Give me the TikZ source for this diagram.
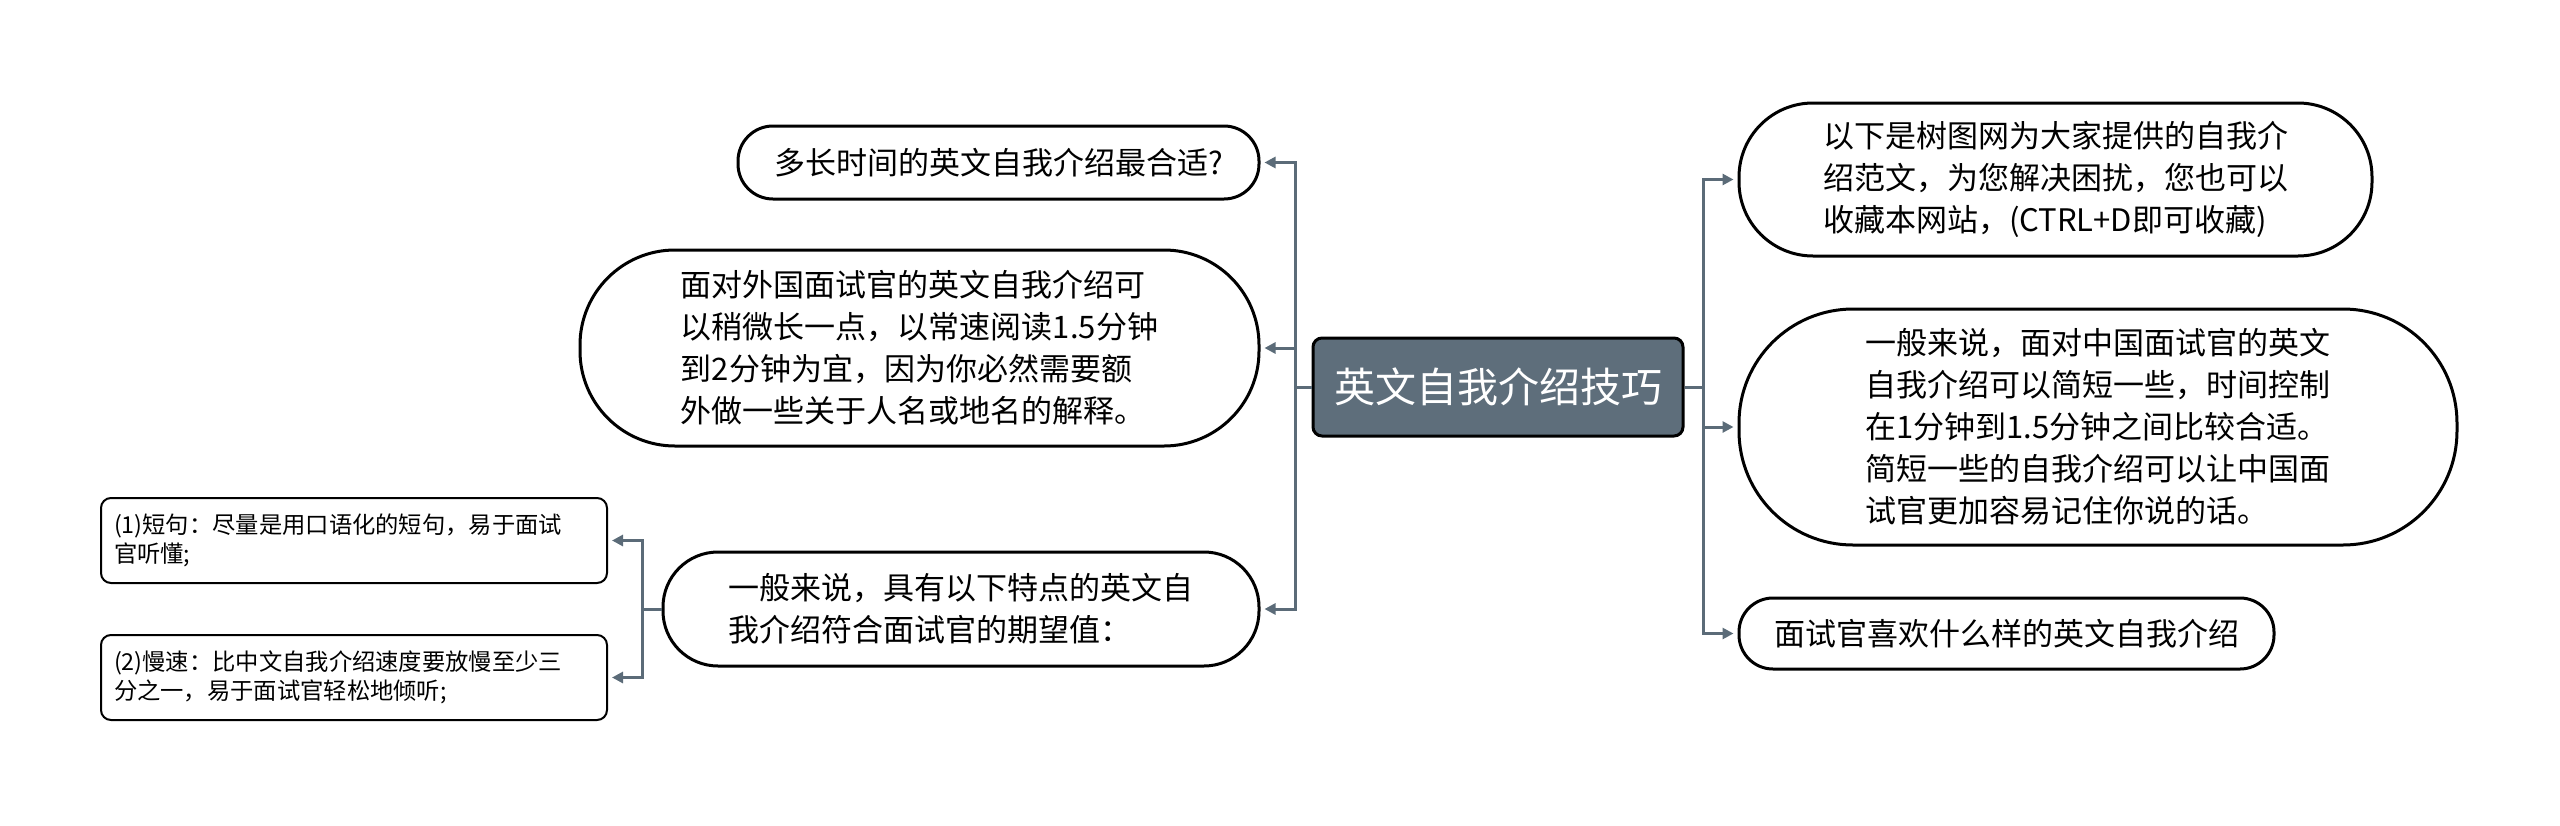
\documentclass[tikz,border=0pt]{standalone}
\usepackage{fontspec}
\newfontfamily\cjk{Noto Sans CJK SC}
\usetikzlibrary{arrows.meta}
\definecolor{linec}{RGB}{91,107,120}
\definecolor{mainfill}{RGB}{94,110,123}
\begin{document}
\begin{tikzpicture}[x=1pt,y=-1pt,
  leaf/.style={draw=black, line width=3pt, fill=white, align=left, font=\cjk\fontsize{31}{42}\selectfont, inner sep=0pt},
  smallbox/.style={draw=black, line width=2pt, fill=white, rounded corners=10pt, align=left, font=\cjk\fontsize{23.3}{29}\selectfont, inner ysep=0pt, inner xsep=13pt, text width=480pt, minimum height=85pt},
  conn/.style={draw=linec, line width=3pt, -{Triangle[length=11pt,width=11pt]}, shorten >=4pt}
]
\useasboundingbox (0,0) rectangle (2560,825);

\node[draw=black, line width=3pt, fill=mainfill, rounded corners=9pt, minimum width=370pt, minimum height=98pt, font=\cjk\fontsize{41}{41}\selectfont, text=white, inner sep=0pt] (c) at (1498,387) {英文自我介绍技巧};

% left leaves
\node[leaf, minimum width=521pt, minimum height=73pt, rounded corners=35pt] (L1) at (998.5,162.5) {多长时间的英文自我介绍最合适?};
\node[leaf, minimum width=679pt, minimum height=196pt, rounded corners=95pt] (L2) at (919.5,348) {面对外国面试官的英文自我介绍可\\以稍微长一点，以常速阅读1.5分钟\\到2分钟为宜，因为你必然需要额\\外做一些关于人名或地名的解释。};
\node[leaf, minimum width=596pt, minimum height=114pt, rounded corners=55pt] (L3) at (961,609) {一般来说，具有以下特点的英文自\\我介绍符合面试官的期望值：};

% sub leaves
\node[smallbox] (S1) at (354,540.5) {(1)短句：尽量是用口语化的短句，易于面试\\官听懂;};
\node[smallbox] (S2) at (354,677.5) {(2)慢速：比中文自我介绍速度要放慢至少三\\分之一，易于面试官轻松地倾听;};

% right leaves
\node[leaf, minimum width=633pt, minimum height=153pt, rounded corners=74pt] (R1) at (2055.5,179.5) {以下是树图网为大家提供的自我介\\绍范文，为您解决困扰，您也可以\\收藏本网站，(CTRL+D即可收藏)};
\node[leaf, minimum width=718pt, minimum height=236pt, rounded corners=114pt] (R2) at (2098,427) {一般来说，面对中国面试官的英文\\自我介绍可以简短一些，时间控制\\在1分钟到1.5分钟之间比较合适。\\简短一些的自我介绍可以让中国面\\试官更加容易记住你说的话。};
\node[leaf, minimum width=535pt, minimum height=71pt, rounded corners=34pt] (R3) at (2006.5,633.5) {面试官喜欢什么样的英文自我介绍};

% buses
\coordinate (lb) at (1295,387);
\coordinate (rb) at (1703,387);
\coordinate (sb) at (642,609);

\draw[conn] (c.west) -- (lb) |- (L1.east);
\draw[conn] (c.west) -- (lb) |- (L2.east);
\draw[conn] (c.west) -- (lb) |- (L3.east);

\draw[conn] (c.east) -- (rb) |- (R1.west);
\draw[conn] (c.east) -- (rb) |- (R2.west);
\draw[conn] (c.east) -- (rb) |- (R3.west);

\draw[conn] (L3.west) -- (sb) |- (S1.east);
\draw[conn] (L3.west) -- (sb) |- (S2.east);
\end{tikzpicture}
\end{document}
